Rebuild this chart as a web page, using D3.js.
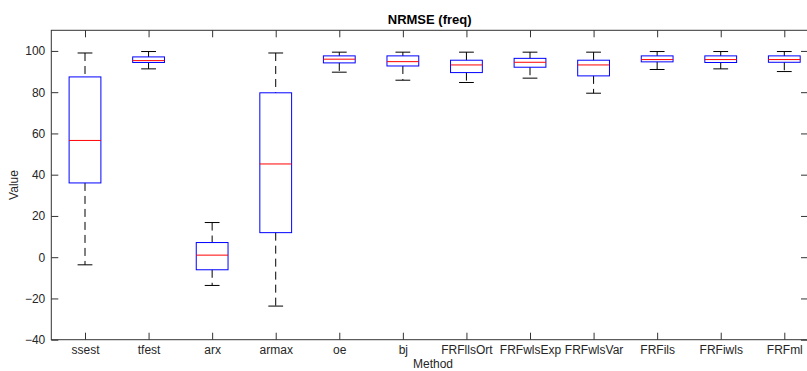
<!DOCTYPE html>
<html><head><meta charset="utf-8">
<script src="https://cdn.jsdelivr.net/npm/d3@7"></script>
<style>body{margin:0;background:#fff}svg{display:block}text{font-family:"Liberation Sans",Arial,Helvetica,sans-serif}</style>
</head><body><svg id="c" width="807" height="371"></svg>
<script>
const categories = ["ssest","tfest","arx","armax","oe","bj","FRFllsOrt","FRFwlsExp","FRFwlsVar","FRFils","FRFiwls","FRFml"];
const whiskerLow  = [-3.7, 91.3, -13.7, -23.7, 89.7, 85.8, 84.7, 86.8, 79.5, 91.0, 91.3, 90.0];
const q1          = [36.0, 94.4,  -6.1,  11.9, 94.2, 92.7, 89.5, 92.1, 87.9, 94.7, 94.4, 94.5];
const medians     = [56.6, 95.3,   1.0,  45.2, 96.0, 94.8, 93.2, 94.5, 93.2, 95.8, 95.8, 95.8];
const q3          = [87.4, 97.1,   7.1,  79.7, 97.6, 97.6, 95.5, 96.4, 95.5, 97.6, 97.6, 97.6];
const whiskerHigh = [99.0, 99.7,  16.8,  99.0, 99.4, 99.4, 99.4, 99.4, 99.4, 99.7, 99.7, 99.7];
const yTicks = [-40,-20,0,20,40,60,80,100];

const svg = d3.select("#c");
const L = 51.3, R = 808, T = 30.3, B = 339.7;
const x = d3.scalePoint().domain(categories).range([85, 784.3]);
const y = d3.scaleLinear().domain([-40,110]).range([B, T]);
const step = x.step();
const boxHalf = step*0.25, capHalf = 7.4;
const axisColor = "#333";

const data = categories.map((c,i)=>({c, lo:whiskerLow[i], q1:q1[i], med:medians[i], q3:q3[i], hi:whiskerHigh[i]}));
const g = svg.append("g");

// whiskers (dashed)
g.selectAll(".wu").data(data).join("line")
  .attr("x1",d=>x(d.c)).attr("x2",d=>x(d.c)).attr("y1",d=>y(d.hi)).attr("y2",d=>y(d.q3))
  .attr("stroke","#000").attr("stroke-width",1).attr("stroke-dasharray","8,5");
g.selectAll(".wl").data(data).join("line")
  .attr("x1",d=>x(d.c)).attr("x2",d=>x(d.c)).attr("y1",d=>y(d.q1)).attr("y2",d=>y(d.lo))
  .attr("stroke","#000").attr("stroke-width",1).attr("stroke-dasharray","8,5");
// caps
g.selectAll(".cu").data(data).join("line")
  .attr("x1",d=>x(d.c)-capHalf).attr("x2",d=>x(d.c)+capHalf).attr("y1",d=>y(d.hi)).attr("y2",d=>y(d.hi))
  .attr("stroke","#000").attr("stroke-width",1);
g.selectAll(".cl").data(data).join("line")
  .attr("x1",d=>x(d.c)-capHalf).attr("x2",d=>x(d.c)+capHalf).attr("y1",d=>y(d.lo)).attr("y2",d=>y(d.lo))
  .attr("stroke","#000").attr("stroke-width",1);
// boxes
g.selectAll(".bx").data(data).join("rect")
  .attr("x",d=>x(d.c)-boxHalf).attr("width",boxHalf*2)
  .attr("y",d=>y(d.q3)).attr("height",d=>y(d.q1)-y(d.q3))
  .attr("fill","none").attr("stroke","#0000ff").attr("stroke-width",1);
// medians
g.selectAll(".md").data(data).join("line")
  .attr("x1",d=>x(d.c)-boxHalf).attr("x2",d=>x(d.c)+boxHalf).attr("y1",d=>y(d.med)).attr("y2",d=>y(d.med))
  .attr("stroke","#ff0000").attr("stroke-width",1);

// frame
svg.append("rect").attr("x",L).attr("y",T).attr("width",R-L).attr("height",B-T)
  .attr("fill","none").attr("stroke",axisColor).attr("stroke-width",1);

// axes
const tl = 7;
const xb = svg.append("g").attr("transform",`translate(0,${B})`)
  .call(d3.axisBottom(x).tickSize(-tl).tickPadding(6));
const xt = svg.append("g").attr("transform",`translate(0,${T})`)
  .call(d3.axisTop(x).tickSize(-tl).tickFormat(""));
const yl = svg.append("g").attr("transform",`translate(${L},0)`)
  .call(d3.axisLeft(y).tickValues(yTicks).tickSize(-tl).tickPadding(6));
const yr = svg.append("g").attr("transform",`translate(${R},0)`)
  .call(d3.axisRight(y).tickValues(yTicks).tickSize(-tl).tickFormat(""));
[xb,xt,yl,yr].forEach(a=>{
  a.select(".domain").remove();
  a.selectAll("line").attr("stroke",axisColor);
  a.selectAll("text").attr("fill","#262626").style("font-size","12px");
});

// title & labels
svg.append("text").attr("x",(L+R)/2).attr("y",24).attr("text-anchor","middle")
  .style("font-size","13px").style("font-weight","bold").attr("fill","#000").text("NRMSE (freq)");
svg.append("text").attr("x",433).attr("y",368).attr("text-anchor","middle")
  .style("font-size","12px").attr("fill","#262626").text("Method");
svg.append("text").attr("transform",`translate(18,${(T+B)/2}) rotate(-90)`).attr("text-anchor","middle")
  .style("font-size","12px").attr("fill","#262626").text("Value");
</script></body></html>
